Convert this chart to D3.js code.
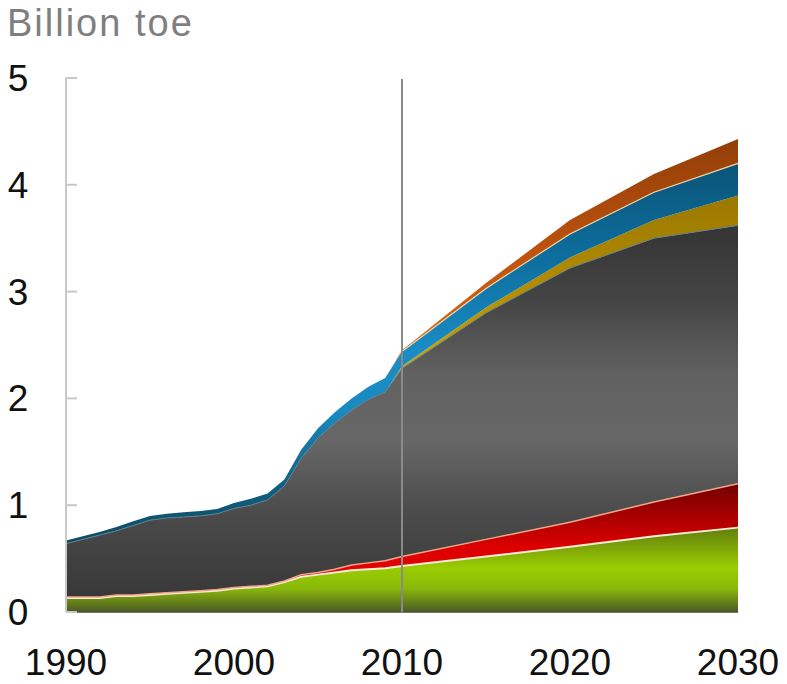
<!DOCTYPE html>
<html>
<head>
<meta charset="utf-8">
<script src="https://cdn.jsdelivr.net/npm/d3@7"></script>
<style>
  html, body { margin: 0; padding: 0; background: #fff; }
  svg { display: block; font-family: "Liberation Sans", Arial, Helvetica, sans-serif; }
</style>
</head>
<body>
<svg id="chart" width="787" height="684"></svg>
<script>
// ---- data (Billion toe) ----
const years   = [1990,1991,1992,1993,1994,1995,1996,1997,1998,1999,2000,2001,2002,2003,2004,2005,2006,2007,2008,2009,2010,2015,2020,2025,2030];
const oil     = [0.13,0.13,0.13,0.15,0.15,0.16,0.17,0.18,0.19,0.20,0.22,0.23,0.24,0.28,0.33,0.35,0.37,0.39,0.40,0.41,0.43,0.52,0.61,0.71,0.79];
const gas     = [0.01,0.01,0.01,0.01,0.01,0.01,0.01,0.01,0.01,0.01,0.01,0.01,0.01,0.01,0.02,0.02,0.03,0.05,0.06,0.07,0.09,0.16,0.23,0.32,0.41];
const coal    = [0.50,0.54,0.58,0.60,0.65,0.69,0.70,0.70,0.70,0.71,0.74,0.76,0.80,0.89,1.09,1.26,1.37,1.45,1.53,1.58,1.76,2.12,2.38,2.47,2.42];
const nuclear = [0,0,0,0,0,0,0,0,0,0,0,0,0,0,0,0,0,0,0,0,0.02,0.05,0.10,0.17,0.28];
const hydro   = [0.03,0.03,0.03,0.035,0.04,0.04,0.04,0.045,0.045,0.045,0.05,0.06,0.06,0.06,0.08,0.09,0.10,0.11,0.12,0.13,0.14,0.18,0.22,0.26,0.30];
const renew   = [0,0,0,0,0,0,0,0,0,0,0,0,0,0,0,0,0,0,0,0,0.01,0.05,0.13,0.17,0.23];
const keys    = ["oil","gas","coal","nuclear","hydro","renew"];
const yTicks  = [0,1,2,3,4,5];
const xTicks  = [1990,2000,2010,2020,2030];
const unitLabel = "Billion toe";
const markerYear = 2010;

// table for d3.stack
const series = {oil, gas, coal, nuclear, hydro, renew};
const table = years.map((yr, i) => {
  const row = {year: yr};
  keys.forEach(k => row[k] = series[k][i]);
  return row;
});

const svg = d3.select("#chart");
const x = d3.scaleLinear().domain([1990, 2030]).range([66, 738]);
const y = d3.scaleLinear().domain([0, 5]).range([612, 78]);

// gradients (vertical, per area bounding box)
const grads = {
  oil:     [[0,"#627e10"],[0.48,"#9acd00"],[0.72,"#8ab80a"],[1,"#4b5924"]],
  gas:     [[0,"#720000"],[0.55,"#dc0000"],[1,"#e80808"]],
  coal:    [[0,"#343434"],[0.2,"#444444"],[0.4,"#616161"],[0.58,"#676767"],[0.78,"#4a4a4a"],[1,"#383838"]],
  nuclear: [[0,"#9a7800"],[0.3,"#b88f00"],[0.55,"#d6aa00"],[1,"#f0c828"]],
  hydro:   [[0,"#0a5477"],[0.25,"#0d6e9e"],[0.5,"#1a8dc6"],[0.65,"#1a8ac0"],[0.85,"#125f80"],[1,"#0c4a62"]],
  renew:   [[0,"#923e08"],[0.3,"#c0540e"],[0.6,"#e0701a"],[1,"#f59030"]]
};
const defs = svg.append("defs");
keys.forEach(k => {
  const g = defs.append("linearGradient").attr("id", "g-" + k)
    .attr("x1", 0).attr("y1", 0).attr("x2", 0).attr("y2", 1);
  grads[k].forEach(([o, c]) => g.append("stop").attr("offset", o).attr("stop-color", c));
});

const stack = d3.stack().keys(keys);
const stacked = stack(table);

const curve = d3.curveLinear;
const area = d3.area()
  .x(d => x(d.data.year))
  .y0(d => y(d[0]))
  .y1(d => y(d[1]))
  .curve(curve);

svg.append("g").selectAll("path")
  .data(stacked)
  .join("path")
  .attr("d", area)
  .attr("fill", d => "url(#g-" + d.key + ")");

// separator lines on top of layers
const topLine = d3.line()
  .x(d => x(d.data.year))
  .y(d => y(d[1]))
  .curve(curve);
const sepStyle = {
  oil:   {c: "#f4edd4", w: 2},
  gas:   {c: "#f2a486", w: 1.5},
  coal:  {c: "#5f7f8e", w: 1}
};
stacked.filter(s => sepStyle[s.key]).forEach(s => {
  svg.append("path").attr("d", topLine(s))
    .attr("fill", "none").attr("stroke", sepStyle[s.key].c).attr("stroke-width", sepStyle[s.key].w);
});
// cream line between hydro and renewables (projection part)
const hydroS = stacked.find(s => s.key === "hydro");
svg.append("path")
  .attr("d", topLine.defined(d => d.data.year >= 2010)(hydroS))
  .attr("fill", "none").attr("stroke", "#e6d6b0").attr("stroke-width", 1.2);

// bottom baseline
svg.append("line")
  .attr("x1", x(1990)).attr("x2", x(2030)).attr("y1", y(0)).attr("y2", y(0))
  .attr("stroke", "#4c4c40").attr("stroke-width", 1.5);

// y axis line and inward ticks
svg.append("line")
  .attr("x1", x(1990)).attr("x2", x(1990)).attr("y1", y(5)).attr("y2", y(0))
  .attr("stroke", "#c8c8c8").attr("stroke-width", 2);
svg.append("g").selectAll("line")
  .data(yTicks)
  .join("line")
  .attr("x1", x(1990)).attr("x2", x(1990) + 11)
  .attr("y1", d => y(d)).attr("y2", d => y(d))
  .attr("stroke", "#c8c8c8").attr("stroke-width", 2);

// y tick labels
svg.append("g").selectAll("text")
  .data(yTicks)
  .join("text")
  .attr("x", 18).attr("y", d => y(d) + 13)
  .attr("text-anchor", "middle")
  .attr("font-size", 37).attr("fill", "#111")
  .text(d => d);

// x tick labels
svg.append("g").selectAll("text")
  .data(xTicks)
  .join("text")
  .attr("x", d => x(d)).attr("y", 675)
  .attr("text-anchor", "middle")
  .attr("font-size", 37).attr("fill", "#111")
  .text(d => d);

// 2010 marker line
svg.append("line")
  .attr("x1", x(markerYear)).attr("x2", x(markerYear)).attr("y1", y(5) + 1).attr("y2", y(0))
  .attr("stroke", "#8a8a8a").attr("stroke-width", 2);

// unit label
svg.append("text")
  .attr("x", 7).attr("y", 36)
  .attr("font-size", 38).attr("fill", "#7f7f7f")
  .attr("letter-spacing", 2)
  .text(unitLabel);
</script>
</body>
</html>
